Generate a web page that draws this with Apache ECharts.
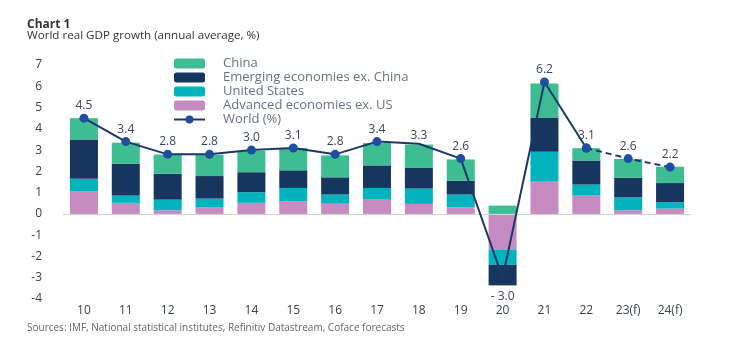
<!DOCTYPE html>
<html>
<head>
<meta charset="utf-8">
<script src="https://cdn.jsdelivr.net/npm/echarts@6/dist/echarts.min.js"></script>
<style>html,body{margin:0;padding:0;background:#fff}#c{width:740px;height:346px}</style>
</head>
<body>
<div id="c"></div>
<script>
const categories = ['10','11','12','13','14','15','16','17','18','19','20','21','22','23(f)','24(f)'];
const advancedExUS = [1.05,0.52,0.17,0.30,0.52,0.60,0.48,0.70,0.47,0.31,-1.67,1.52,0.86,0.17,0.25];
const unitedStates = [0.60,0.35,0.50,0.42,0.50,0.62,0.43,0.52,0.72,0.60,-0.72,1.40,0.52,0.61,0.30];
const emergingExChina = [1.85,1.48,1.22,1.06,0.94,0.83,0.81,1.06,0.97,0.65,-0.97,1.61,1.13,0.92,0.90];
const china = [1.00,1.00,0.90,1.00,1.00,1.05,1.03,1.05,1.10,1.00,0.39,1.60,0.58,0.88,0.77];
const world = [4.5,3.4,2.8,2.8,3.0,3.1,2.8,3.4,3.3,2.6,-3.0,6.2,3.1,2.6,2.2];
const forecastStart = 12;
const hiddenDots = [8,10];
const yTicks = {min:-4, max:7, interval:1};

const FONT = 'Open Sans';
const fmt = v => v < 0 ? '- ' + Math.abs(v).toFixed(1) : v.toFixed(1);

const solidData = world.map((v,i) => {
  if (i > forecastStart) return '-';
  const item = {value: v};
  if (hiddenDots.includes(i)) item.symbolSize = 0;
  if (v < 0) item.label = {position: 'bottom', distance: 13};
  return item;
});
const dashData = world.map((v,i) => {
  if (i < forecastStart) return '-';
  return {value: v, label: {show: i > forecastStart}};
});

const chart = echarts.init(document.getElementById('c'), null, {renderer:'canvas'});
const barSeries = (name, data, color) => ({
  name, type:'bar', stack:'gdp', data, barWidth:28,
  itemStyle:{color}, emphasis:{disabled:true}
});
const lineLabel = {show:true,position:'top',distance:2,formatter:p=>fmt(p.value),color:'#3d4656',fontSize:12,fontFamily:FONT};
chart.setOption({
  animation:false,
  textStyle:{fontFamily:FONT},
  grid:{left:63,right:49,top:65,bottom:47},
  legend:{
    orient:'vertical', left:173, top:57, padding:0,
    itemWidth:31, itemHeight:10, itemGap:1,
    data:['China','Emerging economies ex. China','United States','Advanced economies ex. US','World (%)'],
    textStyle:{fontFamily:FONT,fontSize:13,color:'#6b7280',lineHeight:13,padding:[0,0,0,13]}
  },
  xAxis:{
    type:'category', data:categories,
    axisLine:{show:false,onZero:false}, axisTick:{show:false},
    axisLabel:{color:'#3b4250',fontSize:12,margin:6,fontFamily:FONT}
  },
  yAxis:{
    type:'value', min:yTicks.min, max:yTicks.max, interval:yTicks.interval,
    splitLine:{show:false}, axisLine:{show:false}, axisTick:{show:false},
    axisLabel:{color:'#3b4250',fontSize:12,margin:21,fontFamily:FONT}
  },
  graphic:[
    {type:'text',left:27,top:19,style:{text:'Chart 1',font:'bold 12px '+FONT,fill:'#333'}},
    {type:'text',left:27,top:30,style:{text:'World real GDP growth (annual average, %)',font:'11.6px '+FONT,fill:'#333'}},
    {type:'text',left:27,top:323,style:{text:'Sources: IMF, National statistical institutes, Refinitiv Datastream, Coface forecasts',font:'10px '+FONT,fill:'#666'}}
  ],
  series:[
    Object.assign(barSeries('Advanced economies ex. US', advancedExUS, '#c68bc0'), {
      markLine:{silent:true,symbol:'none',label:{show:false},lineStyle:{color:'#cfd3d8',width:1,type:'solid'},data:[{yAxis:0}]}
    }),
    barSeries('United States', unitedStates, '#00b3bd'),
    barSeries('Emerging economies ex. China', emergingExChina, '#16355f'),
    barSeries('China', china, '#3dbd91'),
    {
      name:'World (%)', type:'line', data:solidData, z:5,
      symbol:'circle', symbolSize:9,
      lineStyle:{color:'#1c3866',width:2},
      itemStyle:{color:'#1f4ea0'},
      label:lineLabel,
      emphasis:{disabled:true}
    },
    {
      name:'World forecast', type:'line', data:dashData, z:5,
      symbol:'circle', symbolSize:9,
      lineStyle:{color:'#1c3866',width:2,type:[6,4]},
      itemStyle:{color:'#1f4ea0'},
      label:lineLabel,
      emphasis:{disabled:true}
    }
  ]
});
</script>
</body>
</html>
